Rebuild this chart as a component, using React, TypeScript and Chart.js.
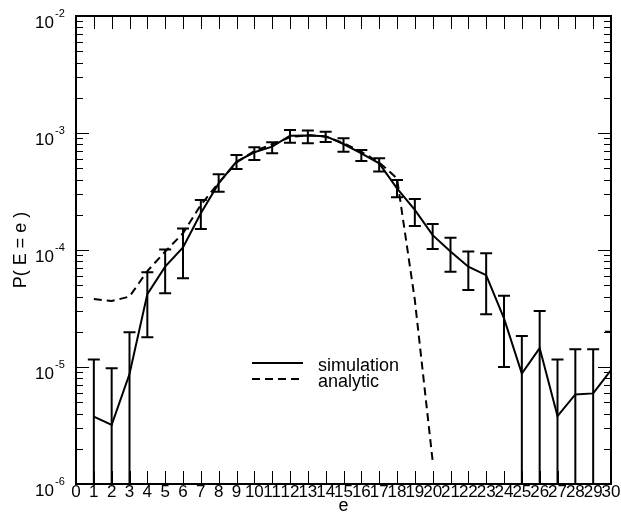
import React, { useEffect, useRef } from "react";
import { Chart, registerables } from "chart.js";

Chart.register(...registerables);

// ---- data ----
const E_VALUES = [1, 2, 3, 4, 5, 6, 7, 8, 9, 10, 11, 12, 13, 14, 15, 16, 17, 18, 19, 20, 21, 22, 23, 24, 25, 26, 27, 28, 29, 30];
const SIM = [3.76e-6, 3.2e-6, 8.7e-6, 4.2e-5, 7.2e-5, 1.05e-4, 2.06e-4, 3.71e-4, 5.69e-4, 6.84e-4, 7.64e-4, 9.48e-4, 9.5e-4, 9.4e-4, 8.05e-4, 6.7e-4, 5.5e-4, 3.37e-4, 2.2e-4, 1.34e-4, 9.7e-5, 7.2e-5, 6.1e-5, 2.6e-5, 8.8e-6, 1.45e-5, 3.81e-6, 5.83e-6, 5.95e-6, 9.4e-6];
const SIM_LOW = [1e-7, 1e-7, 1e-7, 1.8e-5, 4.27e-5, 5.73e-5, 1.51e-4, 3.15e-4, 4.92e-4, 5.87e-4, 6.7e-4, 8.26e-4, 8.17e-4, 8.37e-4, 6.9e-4, 5.76e-4, 4.68e-4, 2.82e-4, 1.6e-4, 1.02e-4, 6.53e-5, 4.55e-5, 2.82e-5, 1.0e-5, 1e-7, 1e-7, 1e-7, 1e-7, 1e-7, 1e-7];
const SIM_HIGH = [1.16e-5, 9.75e-6, 1.98e-5, 6.45e-5, 1.01e-4, 1.53e-4, 2.67e-4, 4.44e-4, 6.49e-4, 7.55e-4, 8.32e-4, 1.06e-3, 1.05e-3, 1.026e-3, 9.0e-4, 7.16e-4, 6.08e-4, 3.96e-4, 2.73e-4, 1.67e-4, 1.27e-4, 9.7e-5, 9.4e-5, 4.07e-5, 1.84e-5, 3.01e-5, 1.16e-5, 1.42e-5, 1.42e-5, 2.0e-5];
const ANALYTIC_E = [1, 2, 3, 4, 5, 6, 7, 8, 9, 10, 11, 12, 13, 14, 15, 16, 17, 18, 19, 20];
const ANALYTIC = [3.81e-5, 3.66e-5, 4.0e-5, 6.6e-5, 9.7e-5, 1.39e-4, 2.43e-4, 3.75e-4, 5.6e-4, 7.0e-4, 8.0e-4, 9.2e-4, 9.6e-4, 9.3e-4, 8.2e-4, 6.9e-4, 5.6e-4, 4.1e-4, 3.74e-5, 1.57e-6];
const X_TICKS = [0, 1, 2, 3, 4, 5, 6, 7, 8, 9, 10, 11, 12, 13, 14, 15, 16, 17, 18, 19, 20, 21, 22, 23, 24, 25, 26, 27, 28, 29, 30];
const Y_DECADES = [-6, -5, -4, -3, -2];
const SERIES_LABELS = ["simulation", "analytic"];
const X_TITLE = "e";
const Y_TITLE = "P( E = e )";

const FONT = "'Liberation Sans', Arial, Helvetica, sans-serif";
const DASH = [8, 5];

const decor = {
  id: "decor",
  afterDatasetsDraw(chart: any) {
    const { ctx, chartArea } = chart;
    const { left, right, top, bottom } = chartArea;
    const xs = chart.scales.x;
    const ys = chart.scales.y;
    ctx.save();
    ctx.beginPath();
    ctx.rect(left, top, right - left, bottom - top);
    ctx.clip();
    ctx.strokeStyle = "#000";
    ctx.lineWidth = 2;
    E_VALUES.forEach((e, i) => {
      const px = xs.getPixelForValue(e);
      const yl = ys.getPixelForValue(SIM_LOW[i]);
      const yh = ys.getPixelForValue(SIM_HIGH[i]);
      ctx.beginPath();
      ctx.moveTo(px, yl);
      ctx.lineTo(px, yh);
      ctx.moveTo(px - 6, yh);
      ctx.lineTo(px + 6, yh);
      ctx.moveTo(px - 6, yl);
      ctx.lineTo(px + 6, yl);
      ctx.stroke();
    });
    ctx.restore();
  },
  afterDraw(chart: any) {
    const { ctx, chartArea } = chart;
    const { left, right, top, bottom } = chartArea;
    const xs = chart.scales.x;
    const ys = chart.scales.y;
    ctx.save();
    ctx.strokeStyle = "#000";
    // inward ticks
    ctx.lineWidth = 1;
    ctx.beginPath();
    X_TICKS.forEach((v) => {
      const px = Math.round(xs.getPixelForValue(v)) + 0.5;
      ctx.moveTo(px, bottom);
      ctx.lineTo(px, bottom - 13);
      ctx.moveTo(px, top);
      ctx.lineTo(px, top + 13);
    });
    Y_DECADES.forEach((n, idx) => {
      const maxK = idx === Y_DECADES.length - 1 ? 1 : 9;
      for (let k = 1; k <= maxK; k++) {
        const py = Math.round(ys.getPixelForValue(k * Math.pow(10, n))) + 0.5;
        const len = k === 1 ? 13 : 7;
        ctx.moveTo(left, py);
        ctx.lineTo(left + len, py);
        ctx.moveTo(right, py);
        ctx.lineTo(right - len, py);
      }
    });
    ctx.stroke();
    // frame
    ctx.lineWidth = 2;
    ctx.strokeRect(left, top, right - left, bottom - top);

    // y tick labels with superscript exponents
    ctx.fillStyle = "#000";
    Y_DECADES.forEach((n) => {
      const py = ys.getPixelForValue(Math.pow(10, n));
      ctx.font = `17px ${FONT}`;
      ctx.textAlign = "right";
      ctx.textBaseline = "alphabetic";
      ctx.fillText("10", left - 22, py + 12);
      ctx.font = `11px ${FONT}`;
      ctx.textAlign = "left";
      ctx.fillText(String(n), left - 21, py + 1);
    });

    // legend
    const lx0 = left + 176;
    const lx1 = left + 227;
    const ly = [top + 347, top + 363];
    ctx.lineWidth = 2;
    ly.forEach((yy, i) => {
      ctx.setLineDash(i === 1 ? DASH : []);
      ctx.beginPath();
      ctx.moveTo(lx0, yy);
      ctx.lineTo(lx1, yy);
      ctx.stroke();
    });
    ctx.setLineDash([]);
    ctx.font = `18px ${FONT}`;
    ctx.textAlign = "left";
    ctx.textBaseline = "alphabetic";
    ly.forEach((yy, i) => {
      ctx.fillText(SERIES_LABELS[i], left + 242, yy + 8);
    });
    ctx.restore();
  },
};

export default function App() {
  const ref = useRef<HTMLCanvasElement>(null);
  useEffect(() => {
    const canvas = ref.current;
    if (!canvas) return;
    const chart = new Chart(canvas, {
      type: "line",
      data: {
        datasets: [
          {
            label: SERIES_LABELS[0],
            data: E_VALUES.map((e, i) => ({ x: e, y: SIM[i] })),
            borderColor: "#000",
            backgroundColor: "#000",
            borderWidth: 2,
            pointRadius: 0,
            fill: false,
            tension: 0,
          },
          {
            label: SERIES_LABELS[1],
            data: ANALYTIC_E.map((e, i) => ({ x: e, y: ANALYTIC[i] })),
            borderColor: "#000",
            backgroundColor: "#000",
            borderWidth: 2,
            borderDash: DASH,
            pointRadius: 0,
            fill: false,
            tension: 0,
          },
        ],
      },
      options: {
        animation: false,
        responsive: false,
        layout: { padding: { left: 0, top: 16, right: 10, bottom: 0 } },
        plugins: { legend: { display: false }, tooltip: { enabled: false } },
        scales: {
          x: {
            type: "linear",
            min: 0,
            max: 30,
            grid: { display: false, drawTicks: false },
            border: { display: false },
            ticks: {
              autoSkip: false,
              maxRotation: 0,
              minRotation: 0,
              color: "#000",
              font: { family: FONT, size: 17 },
              padding: -2,
            },
            title: {
              display: true,
              text: X_TITLE,
              color: "#000",
              font: { family: FONT, size: 18 },
              padding: { top: 0, bottom: 8 },
            },
            afterBuildTicks(s: any) {
              s.ticks = X_TICKS.map((v) => ({ value: v }));
            },
            afterFit(s: any) {
              s.height = 41;
              s.paddingLeft = 0;
              s.paddingRight = 0;
            },
          },
          y: {
            type: "logarithmic",
            min: 1e-6,
            max: 1e-2,
            grid: { display: false, drawTicks: false },
            border: { display: false },
            ticks: { display: false },
            title: {
              display: true,
              text: Y_TITLE,
              color: "#000",
              font: { family: FONT, size: 18 },
              padding: { top: 10, bottom: 0 },
            },
            afterBuildTicks(s: any) {
              s.ticks = Y_DECADES.map((n) => ({ value: Math.pow(10, n) }));
            },
            afterFit(s: any) {
              s.width = 76;
            },
          },
        },
      } as any,
      plugins: [decor],
    });
    return () => chart.destroy();
  }, []);
  return (
    <div style={{ position: "fixed", left: 0, top: 0, width: 621, height: 525, background: "#fff" }}>
      <canvas ref={ref} width={621} height={525} style={{ width: 621, height: 525, display: "block" }} />
    </div>
  );
}
